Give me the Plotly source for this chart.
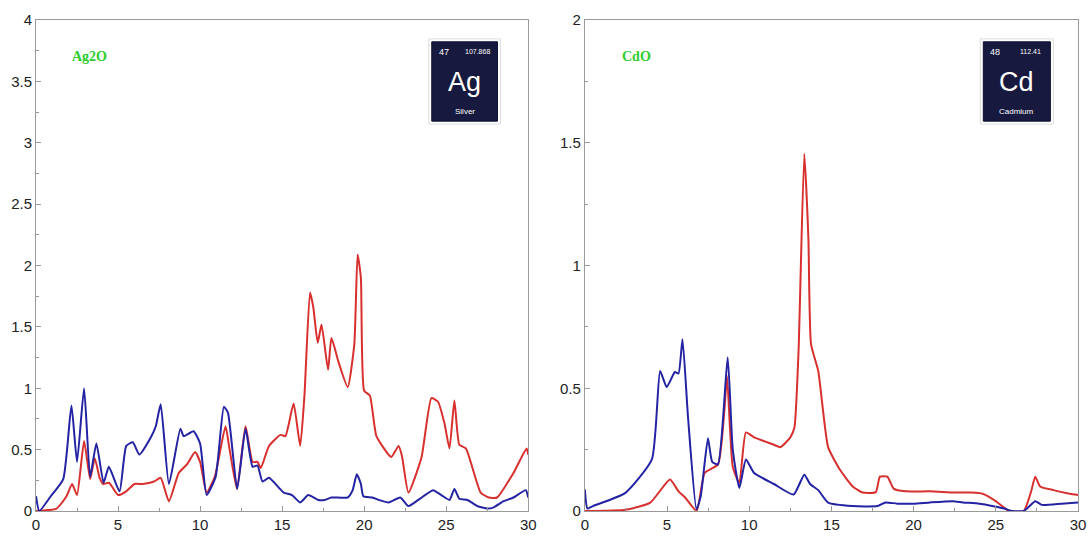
import plotly.graph_objects as go

# ---- Data: left panel (Ag2O) ----
ag_blue_x = [0, 0.2, 0.9, 1.66, 2.16, 2.5, 2.93, 3.3, 3.68, 4.12, 4.44, 5.09, 5.5, 5.9, 6.3, 7.0, 7.3, 7.6,
             8.1, 8.8, 9.0, 9.6, 10.0, 10.4, 10.95, 11.45, 11.7, 12.26, 12.77, 13.2, 13.5, 13.8, 14.2, 14.8,
             15.1, 15.6, 16.1, 16.6, 17.2, 17.6, 18.0, 19.0, 19.3, 19.55, 19.8, 19.95, 20.5, 20.9, 21.5, 22.2,
             22.7, 23.3, 24.2, 24.7, 25.2, 25.5, 25.8, 26.3, 26.9, 27.5, 27.9, 28.5, 29.1, 29.85, 30]
ag_blue_y = [0.12, 0.0, 0.12, 0.26, 0.86, 0.40, 1.0, 0.28, 0.55, 0.23, 0.36, 0.16, 0.53, 0.56, 0.46, 0.6, 0.69, 0.87,
             0.22, 0.67, 0.61, 0.65, 0.55, 0.13, 0.28, 0.85, 0.80, 0.18, 0.67, 0.36, 0.37, 0.24, 0.27, 0.19,
             0.15, 0.13, 0.07, 0.13, 0.09, 0.09, 0.11, 0.11, 0.17, 0.30, 0.22, 0.12, 0.11, 0.09, 0.07, 0.11,
             0.04, 0.09, 0.17, 0.13, 0.09, 0.18, 0.10, 0.09, 0.04, 0.02, 0.03, 0.08, 0.11, 0.17, 0.11]

ag_red_x = [0, 1.25, 1.86, 2.2, 2.5, 2.93, 3.3, 3.58, 3.88, 4.1, 4.45, 5.0, 5.5, 6.0, 6.5, 7.2, 7.6, 8.1, 8.7,
            9.2, 9.7, 10.0, 10.4, 10.9, 11.55, 11.8, 12.25, 12.77, 13.2, 13.5, 13.7, 14.2, 14.9, 15.2, 15.7,
            16.1, 16.36, 16.7, 16.9, 17.17, 17.4, 17.8, 18.0, 18.2, 18.4, 19.0, 19.4, 19.6, 19.8, 20.0, 20.35,
            20.75, 21.65, 22.1, 22.3, 22.7, 23.5, 24.1, 24.5, 24.9, 25.2, 25.5, 25.8, 26.2, 27.1, 27.6, 28.1,
            29.1, 29.9, 30]
ag_red_y = [0, 0.02, 0.12, 0.22, 0.13, 0.57, 0.26, 0.43, 0.27, 0.22, 0.23, 0.13, 0.16, 0.22, 0.22, 0.24, 0.27, 0.08, 0.31,
            0.38, 0.48, 0.40, 0.15, 0.28, 0.69, 0.50, 0.18, 0.69, 0.40, 0.40, 0.35, 0.53, 0.62, 0.61, 0.875,
            0.53, 0.94, 1.78, 1.66, 1.37, 1.52, 1.15, 1.41, 1.33, 1.23, 1.01, 1.36, 2.09, 1.9, 0.98, 0.94,
            0.61, 0.44, 0.53, 0.45, 0.15, 0.44, 0.92, 0.89, 0.71, 0.51, 0.90, 0.54, 0.51, 0.15, 0.11, 0.11,
            0.31, 0.51, 0.46]

# ---- Data: right panel (CdO) ----
cd_blue_x = [0, 0.16, 0.5, 2.47, 4.08, 4.58, 4.98, 5.48, 5.7, 5.94, 6.28, 6.79, 7.05, 7.49, 7.75, 8.1, 8.69,
             9.0, 9.4, 9.8, 10.3, 11.5, 12.7, 13.35, 13.7, 14.2, 14.8, 16.3, 17.8, 18.3, 19, 20, 21, 22.4,
             23, 24, 25.5, 26, 26.7, 27.4, 27.8, 29, 30]
cd_blue_y = [0.088, 0.01, 0.02, 0.074, 0.21, 0.57, 0.505, 0.566, 0.56, 0.70, 0.38, 0.007, 0.06, 0.296, 0.20, 0.19, 0.626,
             0.25, 0.094, 0.21, 0.155, 0.11, 0.067, 0.148, 0.11, 0.085, 0.034, 0.02, 0.02, 0.035, 0.03, 0.03, 0.035, 0.04,
             0.035, 0.03, 0.01, 0.0, 0.0, 0.04, 0.025, 0.03, 0.035]

cd_red_x = [0, 2.5, 3.98, 5.18, 5.7, 6.1, 6.8, 7.29, 8.1, 8.49, 8.65, 9.0, 9.4, 9.8, 10.3, 11.5, 11.9, 12.5,
            12.75, 13.0, 13.35, 13.6, 13.76, 14.2, 14.8, 15.5, 16.3, 16.9, 17.7, 17.95, 18.4, 18.8, 19.5, 21,
            22.5, 23.5, 24.2, 25.0, 25.8, 26.7, 27.15, 27.4, 27.7, 28.5, 29.5, 30]
cd_red_y = [0, 0.005, 0.034, 0.128, 0.08, 0.055, 0.0, 0.155, 0.19, 0.41, 0.55, 0.18, 0.115, 0.32, 0.30, 0.27, 0.26, 0.30,
            0.34, 0.65, 1.455, 1.11, 0.68, 0.57, 0.26, 0.17, 0.10, 0.075, 0.077, 0.14, 0.14, 0.09, 0.08, 0.08,
            0.075, 0.075, 0.07, 0.04, 0.0, 0.0, 0.08, 0.14, 0.10, 0.085, 0.07, 0.065]

RED = "#d8302e"
BLUE = "#2323a3"

fig = go.Figure()
line_common = dict(width=2, shape="spline", smoothing=0.5)
fig.add_trace(go.Scatter(x=ag_red_x, y=ag_red_y, mode="lines", line=dict(color=RED, **line_common),
                         xaxis="x", yaxis="y", showlegend=False))
fig.add_trace(go.Scatter(x=ag_blue_x, y=ag_blue_y, mode="lines", line=dict(color=BLUE, **line_common),
                         xaxis="x", yaxis="y", showlegend=False))
fig.add_trace(go.Scatter(x=cd_red_x, y=cd_red_y, mode="lines", line=dict(color=RED, **line_common),
                         xaxis="x2", yaxis="y2", showlegend=False))
fig.add_trace(go.Scatter(x=cd_blue_x, y=cd_blue_y, mode="lines", line=dict(color=BLUE, **line_common),
                         xaxis="x2", yaxis="y2", showlegend=False))

axis_font = dict(family="Liberation Sans, Arial, sans-serif", size=15, color="#222222")
common_axis = dict(showline=True, linecolor="#9a9a9a", linewidth=1, mirror=True, ticks="inside",
                   ticklen=5, tickcolor="#9a9a9a", showgrid=False, zeroline=False, tickfont=axis_font)

fig.update_layout(
    width=1091, height=538,
    margin=dict(l=36, r=5, t=20, b=23),
    plot_bgcolor="white", paper_bgcolor="white",
    xaxis=dict(domain=[0, 0.4724], range=[0, 30], tickvals=[0, 5, 10, 15, 20, 25, 30],
               minor=dict(ticks="inside", ticklen=3, dtick=2.5, tickcolor="#9a9a9a"), anchor="y", **common_axis),
    yaxis=dict(domain=[0, 1], range=[0, 4], tickvals=[0, 0.5, 1, 1.5, 2, 2.5, 3, 3.5, 4],
               ticktext=["0", "0.5", "1", "1.5", "2", "2.5", "3", "3.5", "4"],
               minor=dict(ticks="inside", ticklen=3, dtick=0.25, tickcolor="#9a9a9a"), anchor="x", **common_axis),
    xaxis2=dict(domain=[0.5267, 1.0], range=[0, 30], tickvals=[0, 5, 10, 15, 20, 25, 30],
                minor=dict(ticks="inside", ticklen=3, dtick=2.5, tickcolor="#9a9a9a"), anchor="y2", **common_axis),
    yaxis2=dict(domain=[0, 1], range=[0, 2], tickvals=[0, 0.5, 1, 1.5, 2],
                ticktext=["0", "0.5", "1", "1.5", "2"],
                minor=dict(ticks="inside", ticklen=3, dtick=0.25, tickcolor="#9a9a9a"), anchor="x2", **common_axis),
)

NAVY = "#171a3e"
tiles = [
    # xref, yref, x0, x1, number, mass, symbol, name
    ("x domain", "y domain", 0.804, 0.9375, "47", "107.868", "Ag", "Silver"),
    ("x2 domain", "y2 domain", 0.808, 0.944, "48", "112.41", "Cd", "Cadmium"),
]
y0, y1 = 0.794, 0.9556
for xr, yr, x0, x1, num, mass, sym, name in tiles:
    w = x1 - x0
    fig.add_shape(type="rect", xref=xr, yref=yr, x0=x0 - 0.006, x1=x1 + 0.006, y0=y0 - 0.006, y1=y1 + 0.006,
                  line=dict(color="#dddddd", width=1), fillcolor="white", layer="above")
    fig.add_shape(type="rect", xref=xr, yref=yr, x0=x0, x1=x1, y0=y0, y1=y1,
                  line=dict(color="#0e1030", width=1), fillcolor=NAVY, layer="above")
    anns = [
        (x0 + 0.18 * w, 0.934, num, 9),
        (x0 + 0.70 * w, 0.936, mass, 7),
        (x0 + 0.5 * w, 0.873, sym, 27),
        (x0 + 0.5 * w, 0.813, name, 8),
    ]
    for ax_, ay_, t, fs in anns:
        fig.add_annotation(xref=xr, yref=yr, x=ax_, y=ay_, text=t, showarrow=False,
                           xanchor="center", yanchor="middle",
                           font=dict(family="Liberation Sans, Arial", size=fs, color="white"))

labels = [("x domain", "y domain", 0.109, "Ag2O"), ("x2 domain", "y2 domain", 0.105, "CdO")]
for xr, yr, xx, txt in labels:
    fig.add_annotation(xref=xr, yref=yr, x=xx, y=0.925, text="<b>" + txt + "</b>", showarrow=False,
                       xanchor="center", yanchor="middle",
                       font=dict(family="Liberation Serif, Times New Roman, serif", size=14, color="#2ecc2e"))

fig.write_html("out.html")
